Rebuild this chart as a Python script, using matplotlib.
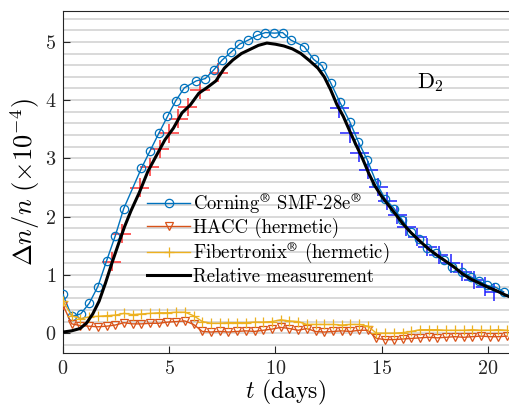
import matplotlib
matplotlib.use("Agg")
import matplotlib.pyplot as plt
import numpy as np

plt.rcParams['mathtext.fontset'] = 'cm'
plt.rcParams['font.family'] = ['cmr10', 'DejaVu Serif']
plt.rcParams['axes.formatter.use_mathtext'] = True

# ---- data ----
corning_x = [0, 0.41, 0.83, 1.23, 1.64, 2.05, 2.46, 2.86, 3.69, 4.10, 4.51, 4.92, 5.31, 5.71,
             6.27, 6.70, 7.10, 7.50, 7.90, 8.31, 8.72, 9.14, 9.53, 9.95, 10.34, 10.73, 11.36,
             11.80, 12.19, 12.60, 13.03, 13.50, 13.90, 14.33, 14.76, 15.16, 15.59, 15.98, 16.37,
             16.76, 17.15, 17.54, 17.93, 18.32, 18.80, 19.19, 19.58, 19.97, 20.36, 20.75]
corning_y = [0.665, 0.29, 0.33, 0.51, 0.80, 1.24, 1.67, 2.14, 2.83, 3.13, 3.43, 3.72, 3.99, 4.21,
             4.33, 4.37, 4.52, 4.69, 4.82, 4.96, 5.03, 5.11, 5.16, 5.15, 5.16, 5.03, 4.92,
             4.70, 4.59, 4.30, 3.97, 3.63, 3.29, 2.97, 2.58, 2.31, 2.14, 1.94, 1.74,
             1.61, 1.46, 1.37, 1.25, 1.14, 1.05, 0.97, 0.90, 0.82, 0.79, 0.71]

series_x = [round(0.41 * i, 2) for i in range(52)]
hacc_y = [0.48, 0.16, 0.13, 0.12, 0.11, 0.12, 0.14, 0.18, 0.16, 0.16, 0.17, 0.17, 0.19, 0.20,
          0.21, 0.15, 0.03, 0.02, 0.03, 0.02, 0.03, 0.04, 0.03, 0.05, 0.07, 0.10, 0.08, 0.05,
          0.08, 0.03, 0.02, 0.03, 0.04, 0.03, 0.05, 0.05, -0.09, -0.11, -0.11, -0.10, -0.09,
          -0.08, -0.07, -0.08, -0.07, -0.06, -0.07, -0.06, -0.05, -0.06, -0.06, -0.05]
fibertronix_y = [0.55, 0.30, 0.25, 0.28, 0.29, 0.30, 0.31, 0.34, 0.32, 0.33, 0.34, 0.35, 0.35,
                 0.36, 0.36, 0.30, 0.20, 0.17, 0.17, 0.18, 0.18, 0.18, 0.19, 0.19, 0.20, 0.23,
                 0.21, 0.20, 0.15, 0.15, 0.15, 0.15, 0.14, 0.15, 0.15, 0.12, 0.00, 0.00, 0.00,
                 0.01, 0.03, 0.06, 0.06, 0.06, 0.05, 0.05, 0.05, 0.06, 0.05, 0.05, 0.06, 0.05]

rel_x = [0.0, 0.4, 0.8, 1.1, 1.4, 1.7, 2.0, 2.3, 2.6, 2.9, 3.2, 3.6, 4.0, 4.4, 4.8, 5.2, 5.6,
         6.0, 6.4, 6.8, 7.2, 7.6, 8.0, 8.4, 8.8, 9.2, 9.6, 10.0, 10.4, 10.8, 11.2, 11.6, 12.0,
         12.3, 12.6, 12.9, 13.2, 13.5, 13.8, 14.1, 14.4, 14.7, 15.0, 15.3, 15.6, 16.0, 16.4,
         16.8, 17.2, 17.6, 18.0, 18.4, 18.8, 19.2, 19.6, 20.0, 20.4, 20.8, 21.0]
rel_y = [0.02, 0.04, 0.08, 0.17, 0.33, 0.55, 0.86, 1.20, 1.52, 1.83, 2.10, 2.42, 2.78, 3.05,
         3.32, 3.52, 3.78, 3.92, 4.12, 4.22, 4.33, 4.55, 4.69, 4.80, 4.87, 4.94, 4.98, 4.96,
         4.93, 4.88, 4.80, 4.68, 4.55, 4.40, 4.18, 3.92, 3.72, 3.47, 3.23, 3.00, 2.74, 2.52,
         2.35, 2.21, 2.07, 1.88, 1.72, 1.58, 1.45, 1.34, 1.24, 1.14, 1.02, 0.93, 0.86, 0.79,
         0.73, 0.66, 0.63]

red_x = [2.30, 2.77, 3.62, 4.08, 4.55, 4.99, 5.43, 5.88, 6.45, 7.32]
red_y = [1.23, 1.71, 2.50, 2.85, 3.16, 3.43, 3.68, 3.88, 4.18, 4.47]
blue_x = [13.0, 13.5, 13.94, 14.38, 14.85, 15.27, 15.74, 16.16, 16.68, 17.15, 17.7, 18.25,
          18.8, 19.34, 19.89, 20.3]
blue_y = [3.86, 3.43, 3.10, 2.80, 2.51, 2.27, 2.03, 1.83, 1.65, 1.48, 1.34, 1.20, 1.05,
          0.91, 0.80, 0.71]
x_err = 0.45
y_err = 0.16

xticks = [0, 5, 10, 15, 20]
yticks = [0, 1, 2, 3, 4, 5]

# ---- figure ----
fig = plt.figure(figsize=(5.09, 4.09), dpi=100)
ax = fig.add_axes([63 / 509, 56 / 409, 446 / 509, 342 / 409])

for g in np.arange(-0.2, 5.41, 0.2):
    ax.axhline(g, color='#d0d0d0', lw=1.1, zorder=0)

ax.errorbar(red_x, red_y, xerr=x_err, yerr=y_err, fmt='none', ecolor='#ff2020',
            elinewidth=1.2, alpha=0.85, zorder=2)
ax.errorbar(blue_x, blue_y, xerr=x_err, yerr=y_err, fmt='none', ecolor='#1a1aff',
            elinewidth=1.2, alpha=0.9, zorder=2)

ax.plot(corning_x, corning_y, '-o', color='#0072BD', lw=1.0, ms=6, mfc='none', mew=0.9,
        label=r'Corning$^{\circledR}$ SMF-28e$^{\circledR}$', zorder=3)
ax.plot(series_x, hacc_y, '-v', color='#D95319', lw=1.0, ms=6, mfc='none', mew=0.9,
        label='HACC (hermetic)', zorder=3)
ax.plot(series_x, fibertronix_y, '-+', color='#EDB120', lw=1.0, ms=7, mew=0.9,
        label=r'Fibertronix$^{\circledR}$ (hermetic)', zorder=3)
ax.plot(rel_x, rel_y, '-', color='black', lw=2.2, label='Relative measurement', zorder=4)

ax.set_xlim(0, 21)
ax.set_ylim(-0.34, 5.53)
ax.set_xticks(xticks)
ax.set_yticks(yticks)
ax.tick_params(direction='in', labelsize=14.5, length=5, colors='#262626', pad=5)
for side in ['left', 'bottom', 'top']:
    ax.spines[side].set_color('#262626')
ax.spines['right'].set_visible(False)

ax.set_xlabel(r'$t$ (days)', fontsize=17, labelpad=0)
ax.set_ylabel(r'$\Delta n/n\ (\times 10^{-4})$', fontsize=19, labelpad=2)

ax.text(17.3, 4.3, r'$\mathrm{D}_2$', fontsize=16, ha='center', va='center')

leg = ax.legend(loc='upper left', bbox_to_anchor=(0.172, 0.497), frameon=False,
                fontsize=13.5, handlelength=2.3, handletextpad=0.15, labelspacing=0.13,
                borderaxespad=0)

fig.savefig('out.png', dpi=100)
